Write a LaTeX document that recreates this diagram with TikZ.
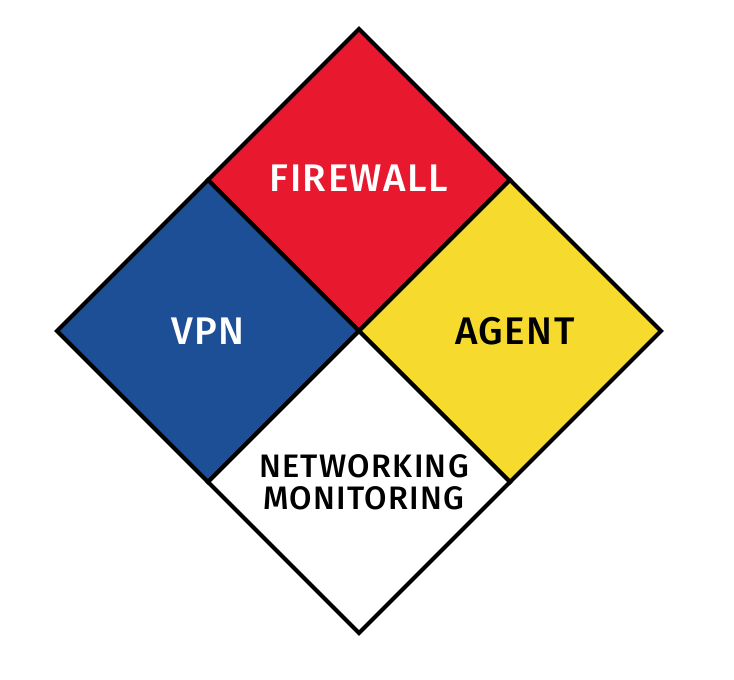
\documentclass[tikz,border=0pt]{standalone}
\usepackage{fontspec}
\setmainfont{Fira Sans Medium}[LetterSpace=4]
\usetikzlibrary{positioning,shapes.geometric}
\definecolor{hazred}{HTML}{E8182F}
\definecolor{hazblue}{HTML}{1C4F95}
\definecolor{hazyellow}{HTML}{F7DA2E}
\tikzset{
	quad/.style={diamond,draw=black,line width=4pt,line join=miter,aspect=1,
		minimum size=302pt,inner sep=0pt,outer sep=0pt,align=center},
	bigtext/.style={font=\fontsize{38.5}{40}\selectfont},
	smalltext/.style={font=\fontsize{32.5}{32}\selectfont}
}
\begin{document}
\begin{tikzpicture}[x=1pt,y=-1pt]
		\useasboundingbox[fill=white] (0,0) rectangle (734,680);
		\node[quad,fill=hazred,text=white,bigtext]				(fire)	at (359,180)	{\raisebox{4pt}{FIREWALL}};
		\node[quad,fill=hazblue,text=white,bigtext,below left=0pt of fire]	(vpn)	{VPN};
		\node[quad,fill=hazyellow,text=black,bigtext,below right=0pt of fire]	(agent)	{\hspace{10pt}AGENT};
		\node[quad,fill=white,text=black,smalltext,below right=0pt of vpn]	(net)	{\hspace{10pt}NETWORKING\\\hspace{10pt}MONITORING};
\end{tikzpicture}
\end{document}
